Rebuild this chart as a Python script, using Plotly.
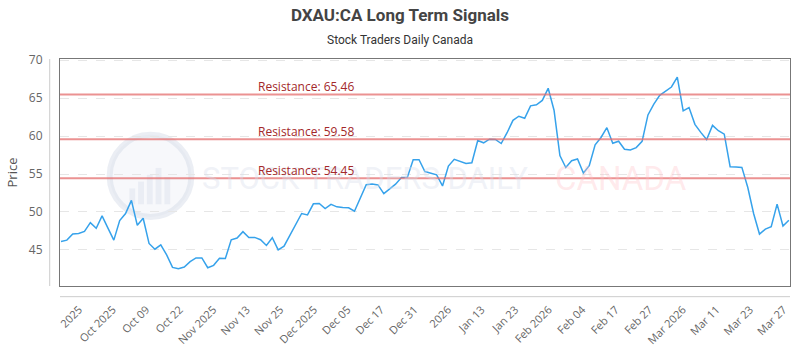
import numpy as np
import plotly.graph_objects as go

prices = [
    46.12, 46.29, 47.09, 47.18, 47.45, 48.6, 47.85, 49.48, 47.88, 46.29,
    48.87, 49.8, 51.53, 48.24, 49.17, 45.85, 45.1, 45.68, 44.35, 42.7,
    42.53, 42.75, 43.46, 43.95, 43.95, 42.66, 42.97, 43.9, 43.86, 46.34,
    46.56, 47.41, 46.65, 46.65, 46.34, 45.59, 46.61, 45.0, 45.49, 46.9,
    48.51, 49.8, 49.62, 51.08, 51.13, 50.46, 51.0, 50.68, 50.6, 50.55,
    50.1, 51.87, 53.6, 53.7, 53.56, 52.41, 52.99, 53.66, 54.53, 54.53,
    56.89, 56.89, 55.33, 55.12, 54.89, 53.43, 56.05, 56.93, 56.71, 56.4,
    56.49, 59.41, 59.11, 59.59, 59.55, 59.02, 60.44, 62.07, 62.61, 62.34,
    63.98, 64.11, 64.69, 66.29, 63.4, 57.42, 55.86, 56.76, 56.98, 55.12,
    56.09, 58.84, 59.81, 61.1, 59.06, 59.32, 58.26, 58.18, 58.48, 59.3,
    62.78, 64.2, 65.36, 65.97, 66.46, 67.75, 63.31, 63.76, 61.54, 60.48,
    59.55, 61.41, 60.7, 60.25, 55.96, 55.92, 55.87, 53.26, 49.8, 47.09,
    47.75, 48.07, 51.04, 48.15, 48.91,
]

tick_labels = ["2025", "Oct 2025", "Oct 09", "Oct 22", "Nov 2025", "Nov 13", "Nov 25",
               "Dec 2025", "Dec 05", "Dec 17", "Dec 31", "2026", "Jan 13", "Jan 23",
               "Feb 2026", "Feb 04", "Feb 17", "Feb 27", "Mar 2026", "Mar 11",
               "Mar 23", "Mar 27"]

resistance_levels = [65.46, 59.58, 54.45]
y_ticks = [45, 50, 55, 60, 65, 70]

x = list(range(len(prices)))
tick_pos = list(np.linspace(3.1, len(prices) - 1.9, len(tick_labels)))

fig = go.Figure()

# watermark
fig.add_shape(type="circle", xref="paper", yref="paper",
              x0=0.068, x1=0.180, y0=0.304, y1=0.666,
              line=dict(color="rgba(205,213,228,0.40)", width=6),
              fillcolor="rgba(228,233,243,0.30)", layer="below")
for bx, bh in [(0.095, 0.07), (0.107, 0.10), (0.119, 0.13), (0.131, 0.16), (0.143, 0.12)]:
    fig.add_shape(type="rect", xref="paper", yref="paper",
                  x0=bx, x1=bx + 0.008, y0=0.36, y1=0.36 + bh,
                  line=dict(width=0), fillcolor="rgba(205,213,228,0.30)", layer="below")
fig.add_annotation(xref="paper", yref="paper", x=0.4178, y=0.475, xanchor="center",
                   text="STOCK TRADERS DAILY", showarrow=False,
                   font=dict(family="Roboto", size=31, color="rgba(215,222,235,0.40)"))
fig.add_annotation(xref="paper", yref="paper", x=0.768, y=0.475, xanchor="center",
                   text="CANADA", showarrow=False,
                   font=dict(family="Roboto", size=33, color="rgba(255,190,195,0.32)"))

fig.add_trace(go.Scatter(x=x, y=prices, mode="lines",
                         line=dict(color="#36A2EB", width=1.5),
                         hoverinfo="skip", showlegend=False))

for lvl in resistance_levels:
    fig.add_shape(type="line", xref="paper", yref="y", x0=0, x1=1, y0=lvl, y1=lvl,
                  line=dict(color="rgba(228,110,110,0.75)", width=2))
    fig.add_annotation(xref="paper", yref="y", x=0.268, y=lvl, xanchor="left",
                       yanchor="middle", yshift=8, showarrow=False,
                       text=f"Resistance: {lvl:.2f}",
                       font=dict(family="Open Sans", size=12, color="#a3282a"))

# outer axis lines
fig.add_shape(type="line", xref="paper", yref="paper", x0=-0.0141, x1=-0.0141, y0=0, y1=1,
              line=dict(color="#cccccc", width=1))
fig.add_shape(type="line", xref="paper", yref="paper", x0=0, x1=1, y0=-0.047, y1=-0.047,
              line=dict(color="#cccccc", width=1))

fig.add_annotation(xref="paper", yref="paper", x=(400 - 60) / 730, y=1.0,
                   yanchor="middle", yshift=19, showarrow=False,
                   text="Stock Traders Daily Canada",
                   font=dict(family="Roboto", size=12, color="#333333"))

fig.update_layout(
    width=800, height=350,
    margin=dict(l=60, r=10, t=59, b=64),
    paper_bgcolor="white", plot_bgcolor="white",
    title=dict(text="<b>DXAU:CA Long Term Signals</b>", x=0.5, xanchor="center",
               y=0.957, yanchor="middle",
               font=dict(family="Roboto", size=17, color="#444444")),
    xaxis=dict(range=[-0.17, len(prices) - 1 + 0.2], tickvals=tick_pos, ticktext=tick_labels,
               tickangle=-45, showgrid=False, zeroline=False, automargin=False,
               showline=True, mirror=True, linecolor="#777777", linewidth=1,
               ticks="", ticklabelstandoff=12,
               tickfont=dict(family="Open Sans", size=11, color="#666666")),
    yaxis=dict(range=[40.25, 70.15], tickvals=y_ticks, showgrid=True, automargin=False,
               gridcolor="#e6e6e6", griddash="dash", gridwidth=1, zeroline=False,
               showline=True, mirror=True, linecolor="#777777", linewidth=1,
               ticks="", ticklabelstandoff=14,
               title=dict(text="Price", standoff=8,
                          font=dict(family="Open Sans", size=13, color="#555555")),
               tickfont=dict(family="Open Sans", size=12, color="#666666")),
)

fig.write_html("out.html")
